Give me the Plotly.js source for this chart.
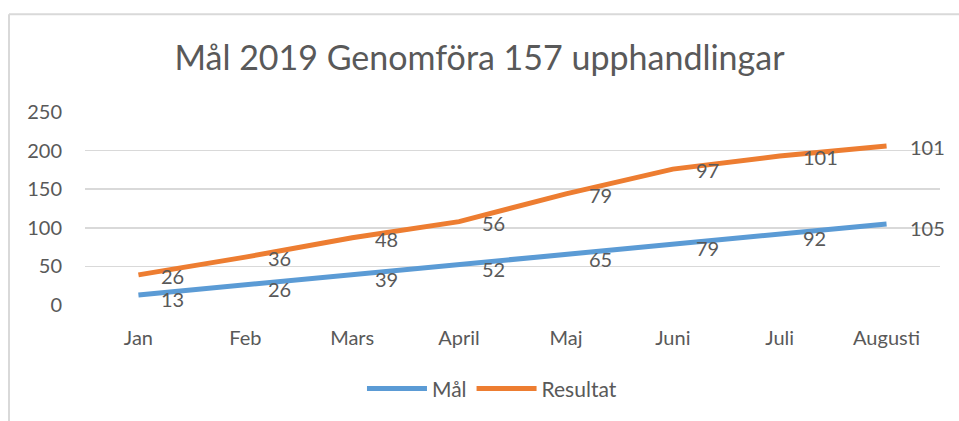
<!DOCTYPE html>
<html>
<head>
<meta charset="utf-8">
<script src="https://cdn.plot.ly/plotly-3.0.1.min.js"></script>
<style>html,body{margin:0;padding:0;background:#fff;}#chart{width:959px;height:421px;}</style>
</head>
<body>
<div id="chart"></div>
<script>
const months = ["Jan", "Feb", "Mars", "April", "Maj", "Juni", "Juli", "Augusti"];
const malValues = [13, 26, 39, 52, 65, 79, 92, 105];
const resultatValues = [26, 36, 48, 56, 79, 97, 101, 101];
const yTicks = [0, 50, 100, 150, 200, 250];
const chartTitle = "Mål 2019 Genomföra 157 upphandlingar";

// Stacked line chart: Resultat drawn on top of Mål
const resultatStacked = resultatValues.map((v, i) => v + malValues[i]);

const FONT = "Lato, 'Open Sans', sans-serif";
const TXT = "#595959";
const xIdx = months.map((m, i) => i);

const traces = [
  {x: xIdx, y: malValues, name: "Mål", mode: "lines",
   line: {color: "#5b9bd5", width: 5}},
  {x: xIdx, y: resultatStacked, name: "Resultat", mode: "lines",
   line: {color: "#ed7d31", width: 5}}
];

const annotations = [];
malValues.forEach((v, i) => annotations.push({
  x: i, y: v, text: String(v), showarrow: false, xanchor: "left", yanchor: "middle",
  xshift: 21, yshift: -4, font: {family: FONT, size: 20, color: TXT}
}));
resultatValues.forEach((v, i) => annotations.push({
  x: i, y: resultatStacked[i], text: String(v), showarrow: false, xanchor: "left", yanchor: "middle",
  xshift: 21, yshift: -1, font: {family: FONT, size: 20, color: TXT}
}));

const layout = {
  width: 959, height: 421,
  margin: {l: 85, r: 19, t: 112, b: 114},
  paper_bgcolor: "#fff", plot_bgcolor: "#fff",
  font: {family: FONT, color: TXT, size: 20},
  title: {text: chartTitle, font: {family: FONT, size: 34, color: TXT},
          x: 0.5, xanchor: "center", y: 0.862, yanchor: "middle"},
  xaxis: {range: [-0.5, 7.5], tickvals: xIdx, ticktext: months, showgrid: false,
          zeroline: false, showline: false, ticks: "", ticklabelstandoff: 19,
          tickfont: {family: FONT, size: 20, color: TXT}, fixedrange: true},
  yaxis: {range: [0, 250], tickvals: yTicks, showgrid: true, gridcolor: "#d9d9d9", gridwidth: 1.5,
          zeroline: false, showline: false, ticks: "", ticklabelstandoff: 22,
          tickfont: {family: FONT, size: 20, color: TXT}, fixedrange: true},
  showlegend: true,
  legend: {orientation: "h", x: 0.476, xanchor: "center", y: -0.435, yanchor: "middle",
           font: {family: FONT, size: 21, color: TXT}, itemwidth: 60, traceorder: "normal"},
  annotations: annotations,
  shapes: [
    {type: "line", xref: "paper", yref: "paper", x0: (9 - 85) / 855, x1: (9 - 85) / 855,
     y0: (306.7 - 13) / 195, y1: (306.7 - 425) / 195, line: {color: "#d9d9d9", width: 2}},
    {type: "line", xref: "paper", yref: "paper", x0: (9 - 85) / 855, x1: (965 - 85) / 855,
     y0: (306.7 - 13) / 195, y1: (306.7 - 13) / 195, line: {color: "#d9d9d9", width: 2}}
  ]
};

Plotly.newPlot("chart", traces, layout, {displayModeBar: false, staticPlot: true});
</script>
</body>
</html>
